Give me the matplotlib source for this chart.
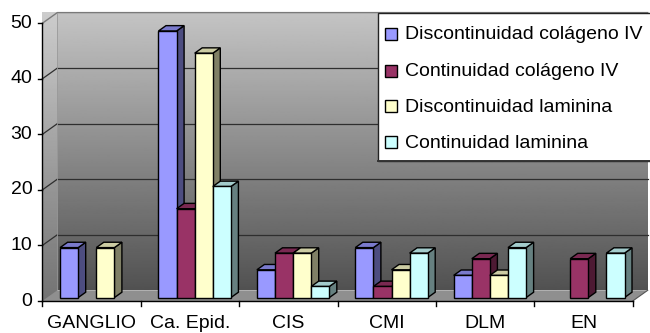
import matplotlib.pyplot as plt
import matplotlib.colors as mcolors
import numpy as np
from matplotlib.patches import Polygon, Rectangle
from matplotlib.transforms import Affine2D

plt.rcParams['font.family'] = ['Liberation Sans', 'DejaVu Sans']

categories = ["GANGLIO", "Ca. Epid.", "CIS", "CMI", "DLM", "EN"]
series = ["Discontinuidad colágeno IV", "Continuidad colágeno IV",
          "Discontinuidad laminina", "Continuidad laminina"]
disc_col = [9, 48, 5, 9, 4, 0]
cont_col = [0, 16, 8, 2, 7, 7]
disc_lam = [9, 44, 8, 5, 4, 0]
cont_lam = [0, 20, 2, 8, 9, 8]
colors = ["#9999FF", "#993366", "#FFFFCC", "#CCFFFF"]
yticks = [0, 10, 20, 30, 40, 50]

values = [disc_col, cont_col, disc_lam, cont_lam]

W, H = 650, 333
fig = plt.figure(figsize=(W / 100, H / 100), dpi=100)
fig.patch.set_facecolor("white")

# front plane of the plot area, in pixels
left, right, bottom, top = 42.3, 632.7, 301.0, 23.3
ax = fig.add_axes([left / W, 1 - bottom / H, (right - left) / W, (bottom - top) / H])
ncat = len(categories)
ymax = 50

# depth offset of the 3d box, in data units
ddx = 15.0 / ((right - left) / ncat)
ddy = 10.7 / ((bottom - top) / ymax)

# back wall
grad = np.linspace(0.77, 0.32, 256)[:, None]
ax.imshow(grad, cmap="gray", vmin=0, vmax=1, aspect="auto",
          extent=[ddx, ncat + ddx, ddy, ymax + ddy], zorder=0, clip_on=False)

# left wall
lw_grad = np.linspace(0.80, 0.45, 256)[:, None]
side = ax.imshow(lw_grad, cmap="gray", vmin=0, vmax=1, aspect="auto",
                 extent=[0, ddx, 0, ymax + ddy], zorder=0, clip_on=False)
wall = Polygon([(0, 0), (0, ymax), (ddx, ymax + ddy), (ddx, ddy)],
               closed=True, transform=ax.transData)
side.set_clip_path(wall)

# floor
ax.add_patch(Polygon([(0, 0), (ncat, 0), (ncat + ddx, ddy), (ddx, ddy)],
                     closed=True, facecolor="#8f8f8f", edgecolor="none",
                     zorder=1, clip_on=False))
ax.plot([ncat, ncat + ddx], [0, ddy], color="#555555", lw=0.8, zorder=1, clip_on=False)

# grid lines on walls
for v in yticks[1:-1]:
    ax.plot([ddx, ncat + ddx], [v + ddy, v + ddy], color="#2e2e2e", lw=0.9, zorder=1, clip_on=False)
    ax.plot([0, ddx], [v, v + ddy], color="#2e2e2e", lw=0.9, zorder=1, clip_on=False)
ax.plot([0, ddx, ncat + ddx], [ymax, ymax + ddy, ymax + ddy], color="#7a7a7a", lw=1.0,
        zorder=1, clip_on=False)
ax.plot([ddx, ddx], [ddy, ymax + ddy], color="#9a9a9a", lw=0.6, zorder=1, clip_on=False)

# bars
bw = 0.184
gap = (1 - 4 * bw) / 2
f_front, f_back = 0.32, 0.82
for j, vals in enumerate(values):
    base = np.array(mcolors.to_rgb(colors[j]))
    top_c = base * 0.8
    side_c = base * 0.5
    idx = [i for i, v in enumerate(vals) if v > 0]
    xs = np.array([i + gap + j * bw for i in idx])
    hs = np.array([vals[i] for i in idx])
    z = 3 + j
    for xl, h in zip(xs, hs):
        xr = xl + bw
        ax.fill([xr + f_front * ddx, xr + f_back * ddx, xr + f_back * ddx, xr + f_front * ddx],
                [f_front * ddy, f_back * ddy, h + f_back * ddy, h + f_front * ddy],
                facecolor=side_c, edgecolor="black", lw=1.0, zorder=z, clip_on=False)
        ax.fill([xl + f_front * ddx, xr + f_front * ddx, xr + f_back * ddx, xl + f_back * ddx],
                [h + f_front * ddy, h + f_front * ddy, h + f_back * ddy, h + f_back * ddy],
                facecolor=top_c, edgecolor="black", lw=1.0, zorder=z, clip_on=False)
    ax.bar(xs + f_front * ddx, hs, bw, bottom=f_front * ddy, align="edge",
           color=colors[j], edgecolor="black", lw=1.0, zorder=z, clip_on=False)

# axes lines and ticks
ax.plot([0, 0], [0, ymax], color="black", lw=1.0, zorder=2, clip_on=False)
ax.plot([0, ncat], [0, 0], color="black", lw=1.0, zorder=2, clip_on=False)
tick_dx = 4.3 / ((right - left) / ncat)
for v in yticks:
    ax.plot([-tick_dx, 0], [v, v], color="black", lw=1.0, clip_on=False)
    ax.text(-0.1, v, str(v), ha="right", va="center", fontsize=14)
tick_dy = 5.0 / ((bottom - top) / ymax)
for i in range(ncat + 1):
    ax.plot([i, i], [0, -tick_dy], color="black", lw=1.0, clip_on=False)
lab_y = -(327.5 - bottom) / ((bottom - top) / ymax)
for i, c in enumerate(categories):
    ax.text(i + 0.5, lab_y, c, ha="center", va="baseline", fontsize=14)

ax.set_xlim(0, ncat)
ax.set_ylim(0, ymax)
ax.axis("off")

# legend, placed in pixel coordinates
px = Affine2D().scale(1 / W, -1 / H).translate(0, 1) + fig.transFigure
fig.add_artist(Rectangle((378, 13.3), 300, 147.4, transform=px, facecolor="white",
                         edgecolor="#222222", lw=1.0, zorder=5))
fig.add_artist(plt.Line2D([378, 660], [160.7, 160.7], transform=px, color="#333333", lw=1.4, zorder=6))
baselines = [39.3, 76.0, 111.7, 147.7]
for name, col, yb in zip(series, colors, baselines):
    fig.add_artist(Rectangle((384.5, yb - 11.5), 12, 12, transform=px, facecolor=col,
                             edgecolor="black", lw=1.0, zorder=6))
    fig.text(405, yb, name, transform=px, ha="left", va="baseline", fontsize=14, zorder=7)

fig.savefig("out.png", dpi=100)
